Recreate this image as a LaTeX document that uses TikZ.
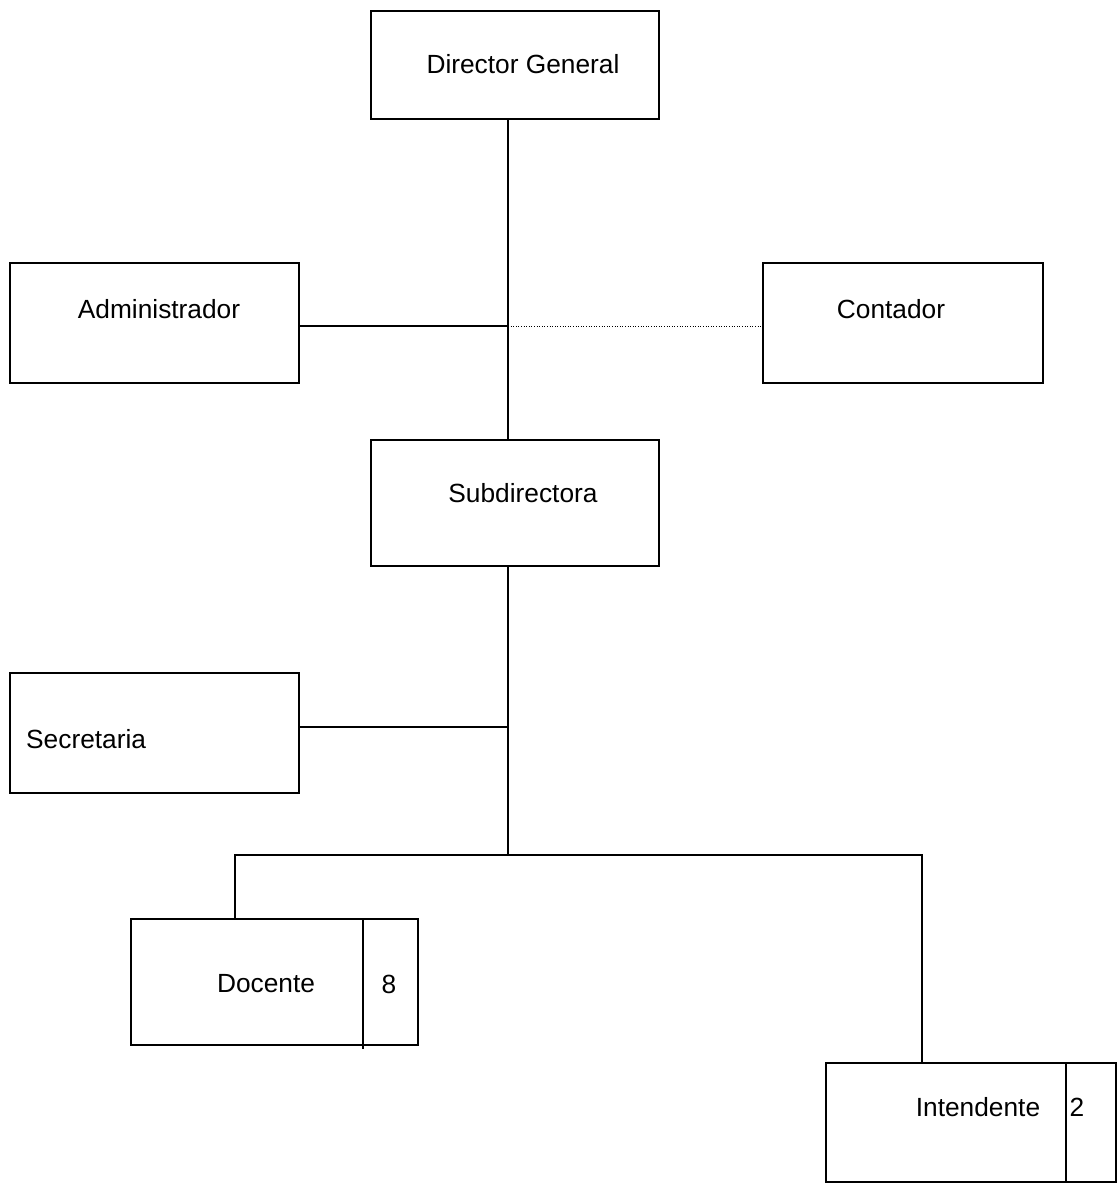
\documentclass[tikz,border=0pt]{standalone}
\usepackage{fontspec}
\setmainfont{Liberation Sans}
\begin{document}
\begin{tikzpicture}[x=1pt,y=-1pt,
  box/.style={draw,line width=1.6pt,rectangle,inner sep=0pt},
  lbl/.style={font=\fontsize{26.3}{30}\selectfont,inner sep=0pt,anchor=center},
  wire/.style={line width=1.6pt},
  dotwire/.style={line width=1pt,dash pattern=on 1pt off 1.6pt}]
\useasboundingbox (0,0) rectangle (1117,1184);

% boxes
\node[box,minimum width=288,minimum height=108] (dg)  at (515,65) {};
\node[box,minimum width=289,minimum height=120] (adm) at (154.5,323) {};
\node[box,minimum width=280,minimum height=120] (con) at (903,323) {};
\node[box,minimum width=288,minimum height=126] (sub) at (515,503) {};
\node[box,minimum width=289,minimum height=120] (sec) at (154.5,733) {};
\node[box,minimum width=287,minimum height=126] (doc) at (274.5,982) {};
\node[box,minimum width=290,minimum height=119] (int) at (971,1122.5) {};

% count columns
\coordinate (dcut) at (363,0);
\coordinate (icut) at (1066,0);
\draw[wire] (doc.north -| dcut) -- ([yshift=-3]doc.south -| dcut);
\draw[wire] (int.north -| icut) -- (int.south -| icut);

% labels
\node[lbl] (dgt)  at (523,64)  {Director General};
\node[lbl] (admt) at (159,309) {Administrador};
\node[lbl] (cont) at (891,309) {Contador};
\node[lbl] (subt) at (523,493) {Subdirectora};
\node[lbl,anchor=west] (sect) at (26,739) {Secretaria};
\node[lbl] (doct) at (266,984) {Docente};
\node[lbl] (docn) at (389,984) {8};
\node[lbl] (intt) at (978,1107) {Intendente};
\node[lbl] (intn) at (1077,1107) {2};

% junction points on the trunk
\coordinate (j1) at (508,326);
\coordinate (j2) at (508,727);
\coordinate (j3) at (508,855);
\coordinate (lft) at (235,855);
\coordinate (rgt) at (922,855);

% connectors
\draw[wire] (dg.south -| j1) -- (sub.north -| j1);
\draw[wire] (adm.east |- j1) -- (j1);
\draw[dotwire] (j1) -- (con.west |- j1);
\draw[wire] (sub.south -| j3) -- (j3);
\draw[wire] (sec.east |- j2) -- (j2);
\draw[wire] (doc.north -| lft) -- (lft) -- (rgt) -- (int.north -| rgt);
\end{tikzpicture}
\end{document}
